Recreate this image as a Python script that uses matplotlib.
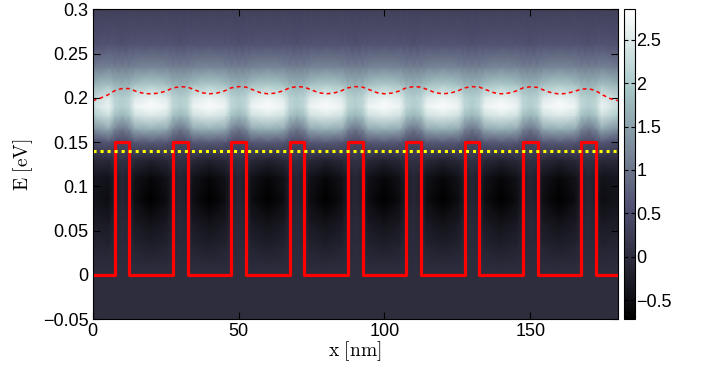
import numpy as np
import matplotlib
matplotlib.use('Agg')
import matplotlib.pyplot as plt

plt.rcParams['font.family'] = ['Liberation Sans', 'DejaVu Sans']
plt.rcParams['mathtext.fontset'] = 'cm'

e_nodes = [-0.05, 0.0, 0.01, 0.03, 0.06, 0.085, 0.11, 0.13, 0.15, 0.165,
           0.18, 0.19, 0.2, 0.215, 0.235, 0.26, 0.3]
# map values along E for different places inside one period
well_centre = [0, 0, -0.05, -0.2, -0.45, -0.72, -0.6, -0.15, 0.7, 1.7,
               2.5, 2.8, 2.65, 2.0, 1.2, 0.6, 0.3]
well_flank = [0, 0, -0.03, -0.14, -0.32, -0.5, -0.42, -0.05, 0.65, 1.6,
              2.35, 2.65, 2.5, 1.9, 1.15, 0.6, 0.3]
barrier_edge = [0, 0, 0, -0.05, -0.12, -0.2, -0.2, 0.05, 0.5, 1.2,
                1.9, 2.2, 2.15, 1.75, 1.1, 0.6, 0.3]
barrier_centre = [0, 0, 0, -0.02, -0.05, -0.1, -0.1, 0.1, 0.45, 1.0,
                  1.75, 2.05, 2.05, 1.7, 1.1, 0.55, 0.3]
outer_edge = [0, 0, -0.03, -0.1, -0.25, -0.4, -0.35, -0.05, 0.5, 1.3,
              2.0, 2.3, 2.2, 1.7, 1.05, 0.55, 0.3]

# superlattice potential
barrier_left = [7.5, 27.5, 47.5, 67.5, 87.5, 107.5, 127.5, 147.5, 167.5]
barrier_width = 5.0
barrier_height = 0.15
x_max = 180.0

# red dashed curve, sampled every 2.5 nm from 0 to 180
dash_e = [0.1968, 0.1995, 0.2030, 0.2080, 0.2105, 0.2105, 0.2072, 0.2050,
          0.2045, 0.2053, 0.2075, 0.2112, 0.2126, 0.2122, 0.2090, 0.2058,
          0.2046, 0.2053, 0.2076, 0.2113, 0.2127, 0.2122, 0.2090, 0.2058,
          0.2046, 0.2053, 0.2076, 0.2113, 0.2127, 0.2122, 0.2090, 0.2058,
          0.2046, 0.2053, 0.2076, 0.2113, 0.2127, 0.2122, 0.2090, 0.2058,
          0.2046, 0.2053, 0.2076, 0.2113, 0.2127, 0.2122, 0.2090, 0.2058,
          0.2046, 0.2053, 0.2076, 0.2113, 0.2127, 0.2122, 0.2090, 0.2058,
          0.2046, 0.2053, 0.2075, 0.2112, 0.2125, 0.2118, 0.2082, 0.2055,
          0.2044, 0.2050, 0.2072, 0.2098, 0.2104, 0.2080, 0.2030, 0.1990,
          0.1968]
dash_x = np.linspace(0, x_max, len(dash_e))

fermi_level = 0.14
clim = (-0.72, 2.85)
cbar_ticks = [-0.5, 0, 0.5, 1, 1.5, 2, 2.5]

# columns of the map: one set per period
col_x, cols = [], []
for i, b in enumerate(barrier_left):
    w = b - 7.5
    col_x += [w, w + 5.5, b, b + 2.5, b + barrier_width, w + 14.5]
    cols += [outer_edge if i == 0 else well_centre, well_flank, barrier_edge,
             barrier_centre, barrier_edge, well_flank]
col_x.append(x_max)
cols.append(outer_edge)
field = np.array(cols).T

# potential profile
pot_x, pot_e = [0.0], [0.0]
for b in barrier_left:
    pot_x += [b, b, b + barrier_width, b + barrier_width]
    pot_e += [0, barrier_height, barrier_height, 0]
pot_x.append(x_max)
pot_e.append(0.0)

fig = plt.figure(figsize=(7.05, 3.71), dpi=100)
ax = fig.add_axes([0.1315, 0.1394, 0.7447, 0.8356])
cax = fig.add_axes([0.8855, 0.1394, 0.0152, 0.8356])

mesh = ax.pcolormesh(col_x, e_nodes, field, shading='gouraud', cmap='bone',
                     vmin=clim[0], vmax=clim[1])
ax.plot(pot_x, pot_e, color='#ff0000', linewidth=2.3)
ax.plot(dash_x, dash_e, color='#ff0000', linewidth=1.1, dashes=(2.5, 2.2))
ax.plot([0, x_max], [fermi_level, fermi_level], color='#ffff00', linewidth=2.2,
        dashes=(1, 1.3))

ax.set_xlim(0, x_max)
ax.set_ylim(-0.05, 0.3)
ax.set_xticks([0, 50, 100, 150])
ax.set_yticks([-0.05, 0, 0.05, 0.1, 0.15, 0.2, 0.25, 0.3])
ax.set_yticklabels(['\u22120.05', '0', '0.05', '0.1', '0.15', '0.2', '0.25', '0.3'])
ax.tick_params(direction='in', top=True, right=True, length=5, width=0.8,
               labelsize=13, pad=3)
ax.set_xlabel(r'$\mathrm{x\ [nm]}$', fontsize=14, labelpad=-1)
ax.set_ylabel(r'$\mathrm{E\ [eV]}$', fontsize=14, labelpad=6)

cb = fig.colorbar(mesh, cax=cax)
cb.set_ticks(cbar_ticks)
cb.set_ticklabels(['\u22120.5', '0', '0.5', '1', '1.5', '2', '2.5'])
cax.tick_params(direction='in', left=True, right=True, length=3, width=0.8,
                labelsize=13, pad=1)
cb.outline.set_linewidth(0.8)

fig.savefig('out.png', dpi=100)
